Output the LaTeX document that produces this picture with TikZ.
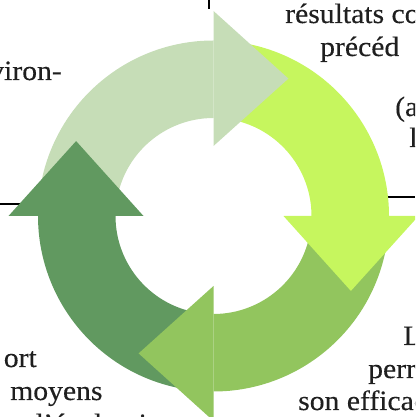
\documentclass[tikz,border=0pt]{standalone}
\usepackage{fontspec}
\setmainfont[FakeStretch=1.06,FakeBold=0.3]{Liberation Serif}
\definecolor{cLight}{HTML}{C6DDB7}
\definecolor{cBright}{HTML}{C6F65E}
\definecolor{cMed}{HTML}{92C55E}
\definecolor{cDark}{HTML}{619960}
\tikzset{
  txt/.style={font=\fontsize{28}{33}\selectfont, inner sep=0pt, text=black!88},
  rule/.style={draw=black, line width=1.2pt},
}
\newcommand\arrbody[2]{%
  \fill[#2] ({#1+82}:175.5) arc[start angle={#1+82}, end angle={#1}, radius=175.5]
    -- ({#1}:98) arc[start angle={#1}, end angle={#1+82}, radius=98] -- cycle;}
\newcommand\arrhead[2]{%
  \fill[#2] ({#1}:70) -- ({#1}:205) -- ({#1-28.6}:156.5) -- cycle;}
\begin{document}
\begin{tikzpicture}[x=1pt,y=1pt]
\useasboundingbox (0,0) rectangle (415,417);
\clip (0,0) rectangle (415,417);
% short rules of the surrounding page
\coordinate (l1a) at (0,213); \coordinate (l1b) at (30,213);
\coordinate (l2a) at (385,220); \coordinate (l2b) at (415,220);
\coordinate (l3a) at (209,417); \coordinate (l3b) at (209,408);
\draw[rule] (l1a) -- (l1b);
\draw[rule] (l2a) -- (l2b);
\draw[rule] (l3a) -- (l3b);
% cycle of arrows
\begin{scope}[shift={(213.5,201)}]
  \arrbody{90}{cLight}
  \arrbody{0}{cBright}
  \arrbody{270}{cMed}
  \arrbody{180}{cDark}
  \arrhead{90}{cLight}
  \arrhead{0}{cBright}
  \arrhead{270}{cMed}
  \arrhead{180}{cDark}
\end{scope}
% texts
\node[txt, anchor=base east] (t1) at (62,337) {viron-};
\node[txt, anchor=base west] (t2) at (285,394) {résultats co};
\node[txt, anchor=base west] (t3) at (320,361) {précéd};
\node[txt, anchor=base west] (t4) at (395,301) {(a};
\node[txt, anchor=base west] (t5) at (409,270) {l};
\node[txt, anchor=base west] (t6) at (403,72) {L};
\node[txt, anchor=base west] (t7) at (368,39) {perr};
\node[txt, anchor=base west] (t8) at (298,7) {son efficac};
\node[txt, anchor=base east] (t9) at (37,50) {ort};
\node[txt, anchor=base west] (t10) at (10,17) {moyens};
\node[txt, anchor=base west] (t11) at (28,-16) {d'évaluation};
\end{tikzpicture}
\end{document}
